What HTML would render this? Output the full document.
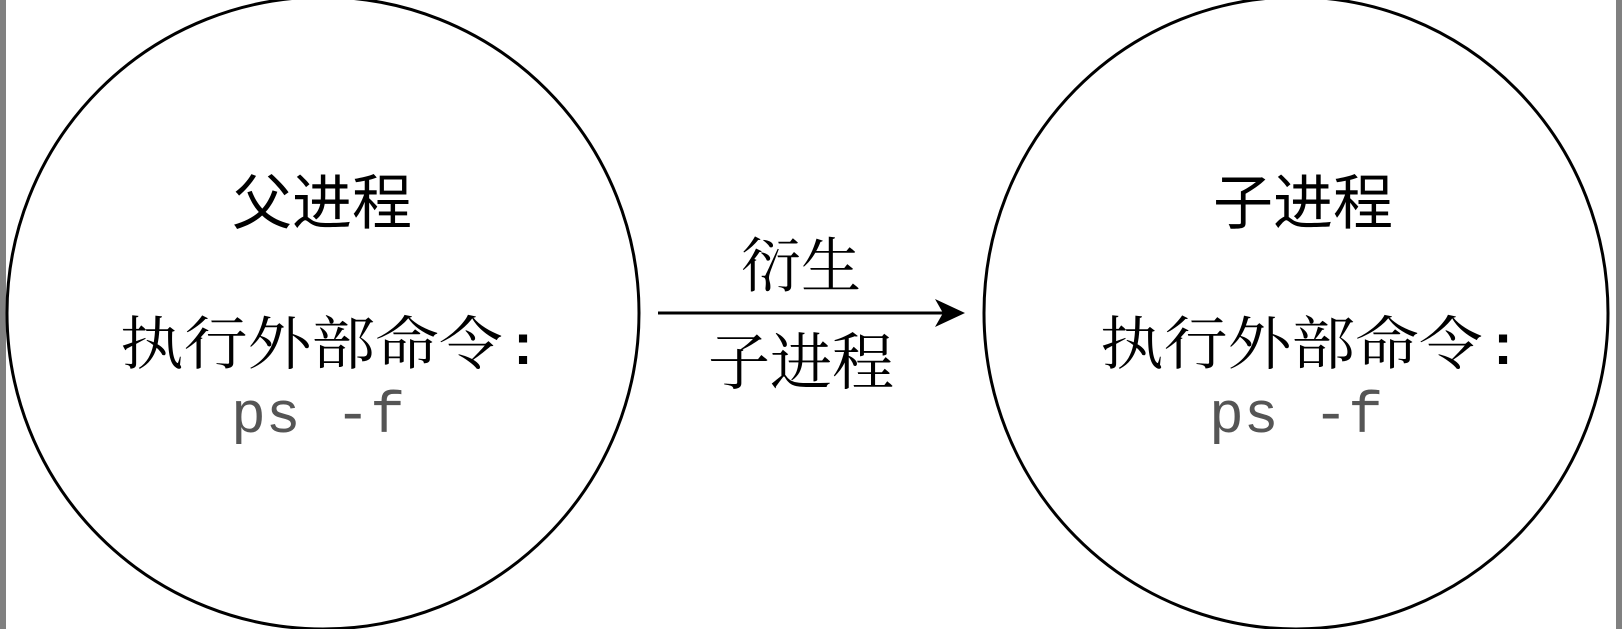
<!DOCTYPE html>
<html><head><meta charset="utf-8"><style>
html,body{margin:0;padding:0;background:#fff;}
svg{display:block;}
.s{font-family:"Liberation Sans","Noto Sans CJK SC",sans-serif;}
.r{font-family:"Liberation Serif","Noto Serif CJK SC",serif;}
.m{font-family:"Liberation Mono",monospace;fill:#555;}
</style></head><body>
<svg width="1622" height="629" viewBox="0 0 1622 629" xmlns="http://www.w3.org/2000/svg">
<rect x="0" y="0" width="1622" height="629" fill="#fff"/>
<rect x="0" y="0" width="6" height="629" fill="#808080"/>
<rect x="1616" y="0" width="6" height="629" fill="#808080"/>
<ellipse cx="323" cy="313" rx="316" ry="316" fill="none" stroke="#000" stroke-width="3"/>
<ellipse cx="1296" cy="313" rx="312" ry="316" fill="none" stroke="#000" stroke-width="3"/>
<line x1="658" y1="313" x2="945" y2="313" stroke="#000" stroke-width="3"/>
<polygon points="965,313 935,299 943,313 935,327" fill="#000"/>
<text class="s" x="322" y="224" font-size="60" text-anchor="middle">父进程</text>
<text class="r" transform="translate(120,364) scale(1.1,1)" font-size="58">执行外部命令</text>
<text class="s" x="523" y="364" font-size="58" text-anchor="middle" font-weight="bold">:</text>
<text class="m" x="318" y="432" font-size="58" text-anchor="middle">ps -f</text>
<text class="r" x="801" y="287" font-size="60" text-anchor="middle">衍生</text>
<text class="r" x="801" y="384" font-size="62" text-anchor="middle">子进程</text>
<text class="s" x="1303" y="224" font-size="60" text-anchor="middle">子进程</text>
<text class="r" transform="translate(1100,364) scale(1.1,1)" font-size="58">执行外部命令</text>
<text class="s" x="1503" y="364" font-size="58" text-anchor="middle" font-weight="bold">:</text>
<text class="m" x="1296" y="432" font-size="58" text-anchor="middle">ps -f</text>
</svg>
</body></html>
